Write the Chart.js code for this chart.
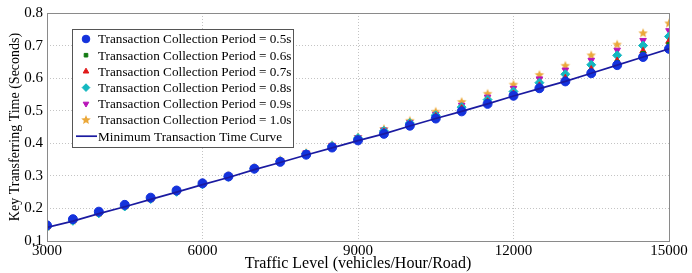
<!DOCTYPE html>
<html>
<head>
<meta charset="utf-8">
<script src="https://cdn.jsdelivr.net/npm/chart.js@4/dist/chart.umd.min.js"></script>
<style>
  html, body { margin: 0; padding: 0; background: #fff; }
  #wrap { width: 692px; height: 273px; }
</style>
</head>
<body>
<div id="wrap"><canvas id="chart"></canvas></div>
<script>
// traffic level (vehicles/hour/road)
const xValues = [3000, 3500, 4000, 4500, 5000, 5500, 6000, 6500, 7000, 7500, 8000, 8500, 9000,
                 9500, 10000, 10500, 11000, 11500, 12000, 12500, 13000, 13500, 14000, 14500, 15000];

// key transferring time (seconds), one list per collection period
const period05 = [0.148, 0.167, 0.190, 0.211, 0.233, 0.255, 0.277, 0.298, 0.322, 0.343, 0.365, 0.387, 0.409,
                  0.429, 0.454, 0.476, 0.498, 0.521, 0.546, 0.569, 0.590, 0.615, 0.640, 0.665, 0.690];
const period06 = [0.145, 0.164, 0.187, 0.208, 0.230, 0.252, 0.274, 0.296, 0.320, 0.342, 0.365, 0.388, 0.411,
                  0.432, 0.457, 0.480, 0.503, 0.526, 0.549, 0.573, 0.595, 0.621, 0.648, 0.675, 0.703];
const period07 = [0.144, 0.163, 0.186, 0.207, 0.229, 0.251, 0.274, 0.296, 0.321, 0.343, 0.366, 0.390, 0.413,
                  0.435, 0.460, 0.483, 0.507, 0.528, 0.552, 0.577, 0.600, 0.627, 0.653, 0.683, 0.713];
const period08 = [0.143, 0.162, 0.185, 0.206, 0.229, 0.251, 0.274, 0.297, 0.322, 0.345, 0.368, 0.392, 0.416,
                  0.438, 0.462, 0.486, 0.511, 0.534, 0.559, 0.586, 0.612, 0.641, 0.670, 0.700, 0.728];
const period09 = [0.143, 0.163, 0.186, 0.207, 0.230, 0.252, 0.276, 0.299, 0.324, 0.347, 0.371, 0.394, 0.418,
                  0.441, 0.464, 0.489, 0.517, 0.542, 0.569, 0.598, 0.625, 0.655, 0.686, 0.716, 0.746];
const period10 = [0.144, 0.163, 0.186, 0.208, 0.231, 0.254, 0.278, 0.301, 0.326, 0.349, 0.371, 0.395, 0.419,
                  0.444, 0.469, 0.497, 0.527, 0.552, 0.580, 0.610, 0.638, 0.670, 0.703, 0.738, 0.768];
const minCurve = [0.142, 0.161, 0.184, 0.205, 0.228, 0.250, 0.273, 0.295, 0.319, 0.341, 0.364, 0.386, 0.408,
                  0.429, 0.453, 0.476, 0.498, 0.521, 0.545, 0.568, 0.590, 0.615, 0.640, 0.665, 0.690];

const xTicks = [3000, 6000, 9000, 12000, 15000];
const yTicks = [0.1, 0.2, 0.3, 0.4, 0.5, 0.6, 0.7, 0.8];

const FONT = "'Liberation Serif', 'Times New Roman', serif";

function toPoints(ys) {
    return xValues.map((x, i) => ({ x: x, y: ys[i] }));
}

// filled five point star like matlab's pentagram marker
function makeStar(color, r) {
    let size = Math.ceil(r * 2 + 2);
    let c = document.createElement('canvas');
    c.width = size; c.height = size;
    let g = c.getContext('2d');
    g.beginPath();
    for (let i = 0; i < 10; i++) {
        let rad = (i % 2 === 0) ? r : r * 0.45;
        let a = -Math.PI / 2 + i * Math.PI / 5;
        let px = size / 2 + rad * Math.cos(a);
        let py = size / 2 + rad * Math.sin(a);
        if (i === 0) g.moveTo(px, py); else g.lineTo(px, py);
    }
    g.closePath();
    g.fillStyle = color;
    g.fill();
    return c;
}

const starImg = makeStar('#eba83a', 5);

// box round the plot area, like matlab axes
const boxPlugin = {
    id: 'axesBox',
    afterDatasetsDraw(chart) {
        let a = chart.chartArea;
        let ctx = chart.ctx;
        ctx.save();
        ctx.strokeStyle = '#8a8a8a';
        ctx.lineWidth = 1;
        ctx.strokeRect(Math.round(a.left) + 0.5, Math.round(a.top) + 0.5,
                       Math.round(a.right - a.left), Math.round(a.bottom - a.top));
        ctx.restore();
    }
};

// legend sits inside the plot, upper left
const legendPlugin = {
    id: 'innerLegend',
    afterDraw(chart) {
        let ctx = chart.ctx;
        let a = chart.chartArea;
        let x0 = a.left + 25, y0 = a.top + 16;
        let w = 221, h = 118;
        let rowH = 16.2;
        ctx.save();
        ctx.fillStyle = '#fff';
        ctx.fillRect(x0, y0, w, h);
        ctx.strokeStyle = '#555';
        ctx.lineWidth = 1;
        ctx.strokeRect(Math.round(x0) + 0.5, Math.round(y0) + 0.5, w, h);
        ctx.font = '13.2px ' + FONT;
        ctx.textBaseline = 'middle';
        ctx.fillStyle = '#000';
        chart.data.datasets.forEach((ds, i) => {
            let cy = y0 + 10 + i * rowH;
            let mx = x0 + 14;
            if (ds.showLine) {
                ctx.strokeStyle = ds.borderColor;
                ctx.lineWidth = ds.borderWidth;
                ctx.beginPath();
                ctx.moveTo(x0 + 4, cy);
                ctx.lineTo(x0 + 25, cy);
                ctx.stroke();
            } else {
                ctx.fillStyle = ds.backgroundColor;
                ctx.strokeStyle = ds.borderColor;
                Chart.helpers.drawPoint(ctx, {
                    pointStyle: ds.pointStyle,
                    radius: ds.pointRadius * 0.85,
                    rotation: ds.rotation || 0,
                    borderWidth: 1
                }, mx, cy);
            }
            ctx.fillStyle = '#000';
            ctx.fillText(ds.label, x0 + 26, cy + 1);
        });
        ctx.restore();
    }
};

function markerSet(label, ys, color, style, radius, order, rotation) {
    return {
        label: label,
        data: toPoints(ys),
        showLine: false,
        pointStyle: style,
        pointRadius: radius,
        pointHoverRadius: radius,
        rotation: rotation || 0,
        backgroundColor: color,
        borderColor: color,
        borderWidth: 1,
        order: order
    };
}

let ctx = document.getElementById('chart').getContext('2d');
new Chart(ctx, {
    type: 'scatter',
    data: {
        datasets: [
            markerSet('Transaction Collection Period = 0.5s', period05, '#1432dc', 'circle', 4.5, 1),
            markerSet('Transaction Collection Period = 0.6s', period06, '#127a12', 'rect', 3, 2),
            markerSet('Transaction Collection Period = 0.7s', period07, '#e01818', 'triangle', 3.8, 3),
            markerSet('Transaction Collection Period = 0.8s', period08, '#14b8c0', 'rectRot', 4.5, 4),
            markerSet('Transaction Collection Period = 0.9s', period09, '#b814b8', 'triangle', 3.8, 5, 180),
            markerSet('Transaction Collection Period = 1.0s', period10, '#eba83a', starImg, 5, 6),
            {
                label: 'Minimum Transaction Time Curve',
                data: toPoints(minCurve),
                showLine: true,
                borderColor: '#1a1aa0',
                backgroundColor: '#1a1aa0',
                borderWidth: 1.7,
                pointRadius: 0,
                tension: 0,
                order: 0
            }
        ]
    },
    options: {
        responsive: true,
        maintainAspectRatio: false,
        animation: false,
        layout: { padding: { top: 4, right: 23, bottom: 0, left: 0 } },
        plugins: {
            legend: { display: false },
            tooltip: { enabled: false }
        },
        scales: {
            x: {
                type: 'linear',
                min: 3000,
                max: 15000,
                afterBuildTicks: (scale) => { scale.ticks = xTicks.map(v => ({ value: v })); },
                afterFit: (scale) => { scale.height = 32; },
                ticks: {
                    color: '#000',
                    padding: 1,
                    maxRotation: 0,
                    font: { family: FONT, size: 15 },
                    callback: (v) => String(v)
                },
                grid: { color: '#c4c4c4', drawTicks: false },
                border: { display: false, dash: [1, 2] },
                title: {
                    display: true,
                    text: 'Traffic Level (vehicles/Hour/Road)',
                    color: '#000',
                    font: { family: FONT, size: 16 },
                    padding: { top: 0, bottom: 0 }
                }
            },
            y: {
                min: 0.1,
                max: 0.8,
                afterBuildTicks: (scale) => { scale.ticks = yTicks.map(v => ({ value: v })); },
                afterFit: (scale) => { scale.width = 47; },
                ticks: {
                    color: '#000',
                    padding: 4,
                    font: { family: FONT, size: 15 },
                    callback: (v) => v.toFixed(1)
                },
                grid: { color: '#c4c4c4', drawTicks: false },
                border: { display: false, dash: [1, 2] },
                title: {
                    display: true,
                    text: 'Key Transferring Time (Seconds)',
                    color: '#000',
                    font: { family: FONT, size: 14 },
                    padding: { top: 7, bottom: 4 }
                }
            }
        }
    },
    plugins: [boxPlugin, legendPlugin]
});
</script>
</body>
</html>
